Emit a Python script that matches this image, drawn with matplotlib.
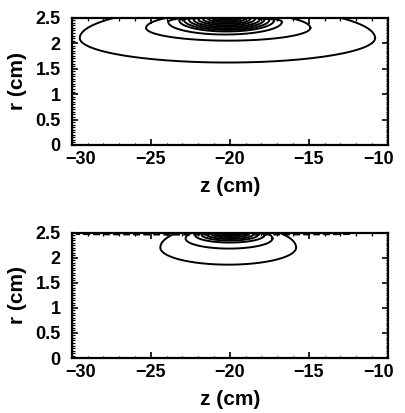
import numpy as np
import matplotlib.pyplot as plt
import matplotlib.transforms as mtransforms
from matplotlib.ticker import MultipleLocator

plt.rcParams['font.family'] = ['Liberation Sans', 'DejaVu Sans']

# contour loops, one entry per level:
# left z, right z, lowest r, r at widest point, r of the (clipped) cap
top_zl = [-29.5, -25.3, -23.9, -23.2, -22.9, -22.6, -22.3, -22.0, -21.7, -21.4, -21.1, -20.8]
top_zr = [-10.8, -14.9, -16.7, -17.2, -17.5, -17.8, -18.1, -18.4, -18.7, -19.0, -19.3, -19.6]
top_rlo = [1.62, 2.05, 2.17, 2.23, 2.26, 2.29, 2.32, 2.35, 2.38, 2.41, 2.44, 2.47]
top_rmid = [2.10, 2.30, 2.42, 2.45, 2.46, 2.47, 2.47, 2.48, 2.48, 2.49, 2.49, 2.49]
top_rcap = [2.72, 2.60, 2.53, 2.52, 2.52, 2.52, 2.52, 2.52, 2.52, 2.52, 2.52, 2.52]

bot_zl = [-24.4, -22.8, -22.2, -21.8, -21.5, -21.2, -20.9, -20.6, -20.3]
bot_zr = [-15.8, -17.3, -17.8, -18.2, -18.5, -18.8, -19.1, -19.4, -19.7]
bot_rlo = [1.86, 2.18, 2.30, 2.34, 2.37, 2.40, 2.43, 2.45, 2.47]
bot_rmid = [2.20, 2.38, 2.45, 2.46, 2.47, 2.48, 2.48, 2.49, 2.49]
bot_rcap = [2.65, 2.60, 2.53, 2.52, 2.52, 2.52, 2.52, 2.52, 2.52]

# thin layer hugging the wall in the lower plot
wall_zl, wall_zr = -29.7, -12.4
wall_rlo, wall_rmid, wall_rcap = 2.455, 2.47, 2.49

z_ticks = [-30, -25, -20, -15, -10]
r_ticks = [0, 0.5, 1, 1.5, 2, 2.5]
r_ticklabels = ['0', '0.5', '1', '1.5', '2', '2.5']


def loop(zl, zr, rlo, rmid, rcap):
    t = np.linspace(0, 2 * np.pi, 400)
    zc = (zl + zr) / 2
    a = (zr - zl) / 2
    s = np.sin(t)
    r = np.where(s > 0, rmid + (rcap - rmid) * s, rmid + (rmid - rlo) * s)
    return zc + a * np.cos(t), r


def setup(ax):
    ax.set_xlim(-30, -10)
    ax.set_ylim(0, 2.5)
    ax.set_xticks(z_ticks)
    ax.set_xticklabels(['\u2212%d' % abs(v) for v in z_ticks])
    ax.set_yticks(r_ticks)
    ax.set_yticklabels(r_ticklabels)
    ax.xaxis.set_minor_locator(MultipleLocator(1))
    ax.yaxis.set_minor_locator(MultipleLocator(0.05))
    ax.tick_params(which='both', direction='in', top=True, right=True,
                   labelsize=13)
    ax.tick_params(axis='x', pad=4)
    ax.tick_params(axis='y', pad=8)
    ax.tick_params(which='major', length=4, width=1.2)
    ax.tick_params(which='minor', length=1.8, width=0.9)
    for lab in ax.get_xticklabels() + ax.get_yticklabels():
        lab.set_fontweight('bold')
    # end labels pulled inside the frame
    xl = ax.get_xticklabels()
    xl[0].set_transform(xl[0].get_transform() +
                        mtransforms.ScaledTranslation(9 / 100, 0, fig.dpi_scale_trans))
    xl[-1].set_transform(xl[-1].get_transform() +
                         mtransforms.ScaledTranslation(-9 / 100, 0, fig.dpi_scale_trans))
    for sp in ax.spines.values():
        sp.set_linewidth(1.6)
    ax.set_xlabel('z (cm)', fontsize=15, fontweight='bold', labelpad=7)
    ax.set_ylabel('r (cm)', fontsize=15, fontweight='bold', labelpad=6)


fig = plt.figure(figsize=(4.06, 4.13), dpi=100)
ax1 = fig.add_axes([0.177, 0.649, 0.778, 0.308])
ax2 = fig.add_axes([0.177, 0.133, 0.778, 0.304])

for zl, zr, rlo, rmid, rcap in zip(top_zl, top_zr, top_rlo, top_rmid, top_rcap):
    z, r = loop(zl, zr, rlo, rmid, rcap)
    ax1.plot(z, r, color='black', lw=1.4)

for zl, zr, rlo, rmid, rcap in zip(bot_zl, bot_zr, bot_rlo, bot_rmid, bot_rcap):
    z, r = loop(zl, zr, rlo, rmid, rcap)
    ax2.plot(z, r, color='black', lw=1.4)

z, r = loop(wall_zl, wall_zr, wall_rlo, wall_rmid, wall_rcap)
ax2.plot(z, r, color='black', lw=1.2, dashes=(4, 2))

setup(ax1)
setup(ax2)

fig.savefig('out.png', dpi=100)
